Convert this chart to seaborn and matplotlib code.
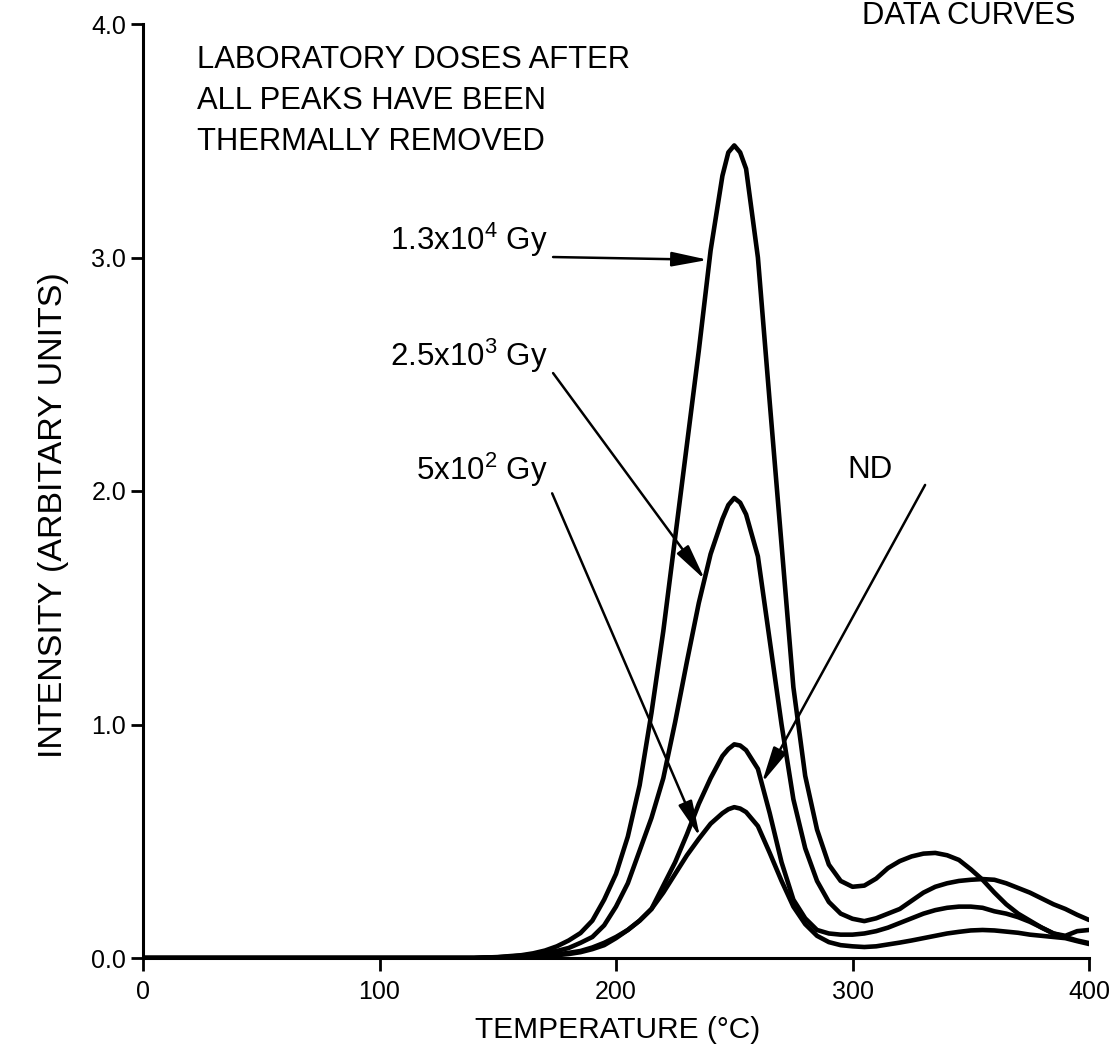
import matplotlib
matplotlib.use("Agg")
import matplotlib.pyplot as plt
import seaborn as sns
import pandas as pd

# ---------------- data ----------------
temps = [0, 100, 140, 145, 150, 155, 160, 165, 170, 175, 180, 185, 190, 195,
         200, 205, 210, 215, 220, 225, 230, 235, 240, 245, 247.5, 250, 252.5,
         255, 260, 265, 270, 275, 280, 285, 290, 295, 300, 305, 310, 315, 320,
         325, 330, 335, 340, 345, 350, 355, 360, 365, 370, 375, 380, 385, 390,
         395, 400]

dose_1p3e4 = [0, 0, 0, 0.002, 0.004, 0.008, 0.012, 0.02, 0.032, 0.05, 0.075,
              0.107, 0.16, 0.25, 0.36, 0.52, 0.74, 1.05, 1.40, 1.80, 2.20,
              2.60, 3.03, 3.35, 3.45, 3.48, 3.45, 3.38, 3.00, 2.38, 1.77, 1.16,
              0.78, 0.55, 0.40, 0.33, 0.305, 0.31, 0.34, 0.385, 0.415, 0.435,
              0.447, 0.45, 0.44, 0.42, 0.38, 0.335, 0.28, 0.23, 0.19, 0.16,
              0.13, 0.105, 0.095, 0.115, 0.12]

dose_2p5e3 = [0, 0, 0, 0.002, 0.003, 0.006, 0.01, 0.015, 0.022, 0.03, 0.043,
              0.065, 0.09, 0.14, 0.22, 0.32, 0.46, 0.60, 0.77, 1.01, 1.27,
              1.52, 1.73, 1.88, 1.94, 1.97, 1.95, 1.90, 1.72, 1.36, 1.00, 0.68,
              0.47, 0.33, 0.24, 0.19, 0.168, 0.158, 0.17, 0.19, 0.21, 0.245,
              0.28, 0.305, 0.32, 0.33, 0.335, 0.338, 0.335, 0.32, 0.30, 0.28,
              0.255, 0.23, 0.21, 0.185, 0.163]

dose_nd = [0, 0, 0, 0.001, 0.002, 0.004, 0.006, 0.009, 0.012, 0.016, 0.022,
           0.03, 0.045, 0.065, 0.09, 0.12, 0.16, 0.21, 0.31, 0.41, 0.53, 0.66,
           0.77, 0.865, 0.895, 0.915, 0.91, 0.89, 0.81, 0.62, 0.41, 0.25, 0.17,
           0.12, 0.105, 0.10, 0.10, 0.105, 0.115, 0.13, 0.15, 0.17, 0.19,
           0.205, 0.215, 0.22, 0.22, 0.215, 0.20, 0.19, 0.175, 0.155, 0.13,
           0.105, 0.09, 0.075, 0.064]

dose_5e2 = [0, 0, 0, 0.001, 0.002, 0.003, 0.005, 0.007, 0.009, 0.012, 0.017,
            0.025, 0.038, 0.055, 0.085, 0.12, 0.16, 0.21, 0.28, 0.36, 0.44,
            0.51, 0.575, 0.62, 0.637, 0.646, 0.64, 0.625, 0.565, 0.45, 0.33,
            0.22, 0.145, 0.095, 0.068, 0.055, 0.05, 0.047, 0.05, 0.058, 0.066,
            0.075, 0.085, 0.095, 0.105, 0.112, 0.118, 0.12, 0.118, 0.113,
            0.108, 0.10, 0.095, 0.09, 0.085, 0.072, 0.06]

x_ticks = [0, 100, 200, 300, 400]
y_ticks = [0.0, 1.0, 2.0, 3.0, 4.0]

# ---------------- style ----------------
sns.set_style("ticks")
FONT = "Liberation Sans"
plt.rcParams["font.family"] = [FONT, "DejaVu Sans"]
plt.rcParams["mathtext.fontset"] = "custom"
plt.rcParams["mathtext.rm"] = FONT
plt.rcParams["mathtext.it"] = FONT
plt.rcParams["mathtext.bf"] = FONT
plt.rcParams["text.color"] = "black"
plt.rcParams["axes.labelcolor"] = "black"
plt.rcParams["xtick.color"] = "black"
plt.rcParams["ytick.color"] = "black"

frames = []
for name, vals in [("1.3e4", dose_1p3e4), ("2.5e3", dose_2p5e3),
                   ("ND", dose_nd), ("5e2", dose_5e2)]:
    frames.append(pd.DataFrame({"temp": temps, "intensity": vals, "dose": name}))
df = pd.concat(frames, ignore_index=True)

fig = plt.figure(figsize=(11.16, 10.52), dpi=100)
ax = fig.add_axes([143 / 1116, 1 - 958 / 1052, 946 / 1116, 934 / 1052])

sns.lineplot(data=df, x="temp", y="intensity", hue="dose",
             palette=["black"] * 4, legend=False, linewidth=3.3,
             estimator=None, sort=False, ax=ax,
             solid_joinstyle="round", solid_capstyle="round")

ax.set_xlim(0, 400)
ax.set_ylim(0, 4.0)
ax.set_xticks(x_ticks)
ax.set_xticklabels([str(t) for t in x_ticks])
ax.set_yticks(y_ticks)
ax.set_yticklabels([f"{t:.1f}" for t in y_ticks])
for s in ["top", "right"]:
    ax.spines[s].set_visible(False)
for s in ["left", "bottom"]:
    ax.spines[s].set_linewidth(2.2)
    ax.spines[s].set_color("black")
ax.tick_params(axis="both", direction="out", length=9, width=2,
               colors="black", labelsize=18)
ax.tick_params(axis="x", pad=7)
ax.tick_params(axis="y", pad=3)

ax.set_xlabel("TEMPERATURE (°C)", fontsize=21.5)
ax.set_ylabel("INTENSITY (ARBITARY UNITS)", fontsize=24.5)
ax.xaxis.set_label_coords(0.502, -0.077)
ax.yaxis.set_label_coords(-0.095, 0.474)
ax.xaxis.label.set_va("center")
ax.yaxis.label.set_va("center")

tsize = 22.3
ax.text(22.8, 3.846, "LABORATORY DOSES AFTER", fontsize=tsize, va="center", ha="left")
ax.text(22.8, 3.672, "ALL PEAKS HAVE BEEN", fontsize=tsize, va="center", ha="left")
ax.text(22.8, 3.495, "THERMALLY REMOVED", fontsize=tsize, va="center", ha="left")
fig.text(1075 / 1116, 0.999, "DATA CURVES", fontsize=tsize, va="top", ha="right")

lsize = 22.5
ax.text(171.2, 3.075, r"1.3x10$^{\mathregular{4}}$ Gy", fontsize=lsize,
        va="center", ha="right")
ax.text(171.2, 2.578, r"2.5x10$^{\mathregular{3}}$ Gy", fontsize=lsize,
        va="center", ha="right")
ax.text(171.2, 2.09, r"5x10$^{\mathregular{2}}$ Gy", fontsize=lsize,
        va="center", ha="right")
ax.text(307.4, 2.09, "ND", fontsize=lsize, va="center", ha="center")

aprops = dict(arrowstyle="-|>,head_length=1.1,head_width=0.22",
              mutation_scale=20, color="black", lw=1.8,
              shrinkA=0, shrinkB=0)
arrows = [((173.4, 3.002), (239.0, 2.99)),
          ((173.4, 2.505), (237.6, 1.62)),
          ((173.0, 1.99), (235.5, 0.518)),
          ((330.7, 2.026), (261.7, 0.75))]
for start, tip in arrows:
    ax.annotate("", xy=tip, xytext=start, arrowprops=aprops)

fig.savefig("out.png", dpi=100, facecolor="white")
